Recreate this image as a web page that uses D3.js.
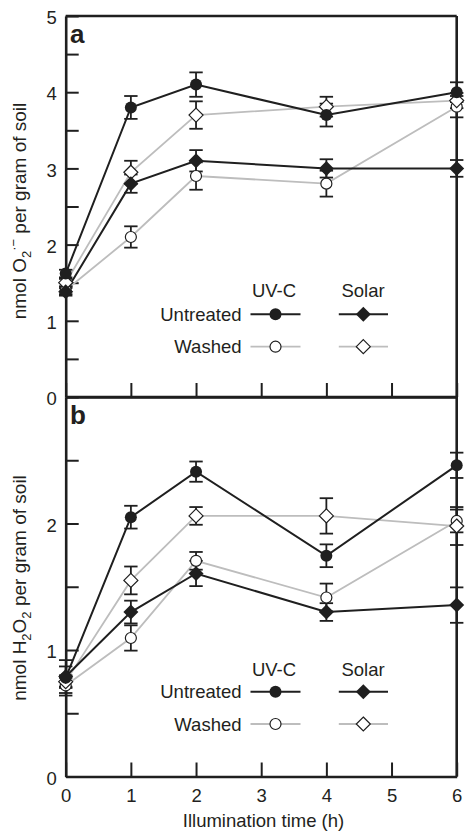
<!DOCTYPE html>
<html>
<head>
<meta charset="utf-8">
<script src="https://cdn.jsdelivr.net/npm/d3@7"></script>
<style>
  html, body { margin: 0; padding: 0; background: #fff; }
  text { font-family: "Liberation Sans", Arial, Helvetica, sans-serif; fill: #231f20; }
</style>
</head>
<body>
<svg id="chart" width="465" height="831"></svg>
<script>
// ---------------- DATA ----------------
const times = [0, 1, 2, 4, 6];
const xTickValues = [0, 1, 2, 3, 4, 5, 6];

// Panel a: nmol O2·- per gram of soil
const uvcUntreatedO2 = [1.62, 3.80, 4.10, 3.70, 4.00];
const uvcUntreatedO2Err = [0.05, 0.15, 0.16, 0.15, 0.13];
const solarUntreatedO2 = [1.38, 2.80, 3.10, 3.00, 3.00];
const solarUntreatedO2Err = [0.05, 0.12, 0.14, 0.12, 0.11];
const uvcWashedO2 = [1.40, 2.10, 2.90, 2.80, 3.81];
const uvcWashedO2Err = [0.05, 0.14, 0.18, 0.17, 0.14];
const solarWashedO2 = [1.50, 2.95, 3.70, 3.81, 3.89];
const solarWashedO2Err = [0.05, 0.15, 0.18, 0.13, 0.10];
const yTicksA = [0, 0.5, 1, 1.5, 2, 2.5, 3, 3.5, 4, 4.5, 5];
const yLabelsA = [0, 1, 2, 3, 4, 5];

// Panel b: nmol H2O2 per gram of soil
const uvcUntreatedH2O2 = [0.78, 2.05, 2.41, 1.745, 2.46];
const uvcUntreatedH2O2Err = [0.14, 0.09, 0.08, 0.09, 0.10];
const solarUntreatedH2O2 = [0.79, 1.30, 1.605, 1.30, 1.355];
const solarUntreatedH2O2Err = [0.08, 0.09, 0.10, 0.07, 0.14];
const uvcWashedH2O2 = [0.72, 1.095, 1.705, 1.415, 2.02];
const uvcWashedH2O2Err = [0.06, 0.10, 0.07, 0.11, 0.09];
const solarWashedH2O2 = [0.75, 1.55, 2.06, 2.06, 1.98];
const solarWashedH2O2Err = [0.05, 0.11, 0.07, 0.14, 0.15];
const yTicksB = [0, 0.5, 1, 1.5, 2, 2.5];
const yLabelsB = [0, 1, 2];

// ---------------- STYLE / LAYOUT ----------------
const BLACK = "#1f1f1f";
const GRAY = "#bdbdbd";
const FONT = 18.5;

const svg = d3.select("#chart");
const x = d3.scaleLinear().domain([0, 6]).range([65.7, 456.7]);

const series = (vals, errs, kind) => times.map((t, i) => ({ t, v: vals[i], e: errs[i], kind }));

const panels = [
  {
    letter: "a",
    y: d3.scaleLinear().domain([0, 5]).range([397, 16]),
    ticks: yTicksA, labels: yLabelsA, showXLabels: false,
    titleY: 211,
    title: [["nmol O", 0], ["2", 1], ["·\u2212", -1], [" per gram of soil", 0]],
    data: [
      series(uvcWashedO2, uvcWashedO2Err, "openCircle"),
      series(solarWashedO2, solarWashedO2Err, "openDiamond"),
      series(uvcUntreatedO2, uvcUntreatedO2Err, "filledCircle"),
      series(solarUntreatedO2, solarUntreatedO2Err, "filledDiamond")
    ],
    legend: { header: 296.7, row1: 314.3, row2: 346.7 }
  },
  {
    letter: "b",
    y: d3.scaleLinear().domain([0, 3]).range([776.5, 397]),
    ticks: yTicksB, labels: yLabelsB, showXLabels: true,
    titleY: 588,
    title: [["nmol H", 0], ["2", 1], ["O", 0], ["2", 1], [" per gram of soil", 0]],
    data: [
      series(uvcWashedH2O2, uvcWashedH2O2Err, "openCircle"),
      series(solarWashedH2O2, solarWashedH2O2Err, "openDiamond"),
      series(uvcUntreatedH2O2, uvcUntreatedH2O2Err, "filledCircle"),
      series(solarUntreatedH2O2, solarUntreatedH2O2Err, "filledDiamond")
    ],
    legend: { header: 676, row1: 691.7, row2: 724 }
  }
];

function diamondPath(h) { return `M0,${-h}L${h},0L0,${h}L${-h},0Z`; }

function drawMarker(g, kind, cx, cy) {
  if (kind === "filledCircle") {
    g.append("circle").attr("cx", cx).attr("cy", cy).attr("r", 6).attr("fill", BLACK);
  } else if (kind === "openCircle") {
    g.append("circle").attr("cx", cx).attr("cy", cy).attr("r", 5.5)
      .attr("fill", "#fff").attr("stroke", BLACK).attr("stroke-width", 1.2);
  } else if (kind === "filledDiamond") {
    g.append("path").attr("d", diamondPath(7.5)).attr("transform", `translate(${cx},${cy})`)
      .attr("fill", BLACK);
  } else {
    g.append("path").attr("d", diamondPath(7)).attr("transform", `translate(${cx},${cy})`)
      .attr("fill", "#fff").attr("stroke", BLACK).attr("stroke-width", 1.2);
  }
}

const isWashed = k => k.startsWith("open");

panels.forEach(p => {
  const y = p.y;
  const g = svg.append("g");

  // Left axis (inward ticks)
  const yAxis = d3.axisLeft(y).tickValues(p.ticks).tickSizeInner(-13).tickSizeOuter(0).tickPadding(9)
    .tickFormat(d => p.labels.includes(d) ? d3.format("d")(d) : "");
  const ya = g.append("g").attr("transform", `translate(${x(0)},0)`).call(yAxis);
  ya.select(".domain").attr("stroke", BLACK).attr("stroke-width", 2.6);
  ya.selectAll(".tick line").attr("stroke", BLACK).attr("stroke-width", 2);
  ya.selectAll(".tick text").attr("font-size", FONT).attr("fill", "#231f20")
    .attr("font-family", "Liberation Sans, Arial, sans-serif").attr("dy", "0.42em");

  // Bottom axis (inward ticks)
  const xAxis = d3.axisBottom(x).tickValues(xTickValues).tickSizeInner(-14).tickSizeOuter(0).tickPadding(12)
    .tickFormat(d => p.showXLabels ? d3.format("d")(d) : "");
  const xa = g.append("g").attr("transform", `translate(0,${y(0)})`).call(xAxis);
  xa.select(".domain").attr("stroke", BLACK).attr("stroke-width", 2.6);
  xa.selectAll(".tick line").attr("stroke", BLACK).attr("stroke-width", 2);
  xa.selectAll(".tick text").attr("font-size", FONT).attr("fill", "#231f20")
    .attr("font-family", "Liberation Sans, Arial, sans-serif");

  // Top and right frame lines
  const [yMin, yMax] = y.domain();
  g.append("line").attr("x1", x(0)).attr("x2", x(6)).attr("y1", y(yMax)).attr("y2", y(yMax))
    .attr("stroke", BLACK).attr("stroke-width", 2.6);
  g.append("line").attr("x1", x(6)).attr("x2", x(6)).attr("y1", y(yMax)).attr("y2", y(yMin))
    .attr("stroke", BLACK).attr("stroke-width", 2.6);

  // Panel letter
  g.append("text").attr("x", 70).attr("y", y(yMax) + 27).attr("font-size", 26)
    .attr("font-weight", "bold").attr("fill", "#111").text(p.letter);

  // Y title
  const t = g.append("text").attr("transform", `translate(25.5,${p.titleY}) rotate(-90)`)
    .attr("text-anchor", "middle").attr("font-size", 19);
  let shift = 0;
  p.title.forEach(([s, lvl]) => {
    const target = lvl === 1 ? 5 : (lvl === -1 ? -8 : 0);
    const ts = t.append("tspan").attr("dy", target - shift).text(s);
    if (lvl !== 0) ts.attr("font-size", 13);
    shift = target;
  });

  // Lines
  const lineGen = d3.line().x(d => x(d.t)).y(d => y(d.v));
  p.data.forEach(s => {
    g.append("path").datum(s).attr("d", lineGen).attr("fill", "none")
      .attr("stroke", isWashed(s[0].kind) ? GRAY : BLACK)
      .attr("stroke-width", isWashed(s[0].kind) ? 1.8 : 2);
  });

  // Error bars
  p.data.forEach(s => {
    s.forEach(d => {
      const eg = g.append("g").attr("stroke", BLACK).attr("stroke-width", 1.8);
      eg.append("line").attr("x1", x(d.t)).attr("x2", x(d.t)).attr("y1", y(d.v - d.e)).attr("y2", y(d.v + d.e));
      eg.append("line").attr("x1", x(d.t) - 6.7).attr("x2", x(d.t) + 6.7).attr("y1", y(d.v - d.e)).attr("y2", y(d.v - d.e));
      eg.append("line").attr("x1", x(d.t) - 6.7).attr("x2", x(d.t) + 6.7).attr("y1", y(d.v + d.e)).attr("y2", y(d.v + d.e));
    });
  });

  // Markers
  p.data.forEach(s => s.forEach(d => drawMarker(g, d.kind, x(d.t), y(d.v))));

  // Legend
  const L = p.legend;
  const lg = g.append("g");
  lg.append("text").attr("x", 274).attr("y", L.header).attr("text-anchor", "middle").attr("font-size", FONT).text("UV-C");
  lg.append("text").attr("x", 363).attr("y", L.header).attr("text-anchor", "middle").attr("font-size", FONT).text("Solar");
  lg.append("text").attr("x", 241.5).attr("y", L.row1 + 6.5).attr("text-anchor", "end").attr("font-size", FONT).text("Untreated");
  lg.append("text").attr("x", 241.5).attr("y", L.row2 + 6.5).attr("text-anchor", "end").attr("font-size", FONT).text("Washed");
  const rows = [
    { yy: L.row1, color: BLACK, w: 2, kinds: ["filledCircle", "filledDiamond"] },
    { yy: L.row2, color: GRAY, w: 1.8, kinds: ["openCircle", "openDiamond"] }
  ];
  const cols = [{ x1: 250.5, x2: 300.5, cx: 275.5 }, { x1: 338.8, x2: 388, cx: 363.3 }];
  rows.forEach(r => {
    cols.forEach((c, ci) => {
      lg.append("line").attr("x1", c.x1).attr("x2", c.x2).attr("y1", r.yy).attr("y2", r.yy)
        .attr("stroke", r.color).attr("stroke-width", r.w);
      drawMarker(lg, r.kinds[ci], c.cx, r.yy);
    });
  });
});

// X title
svg.append("text").attr("x", 263.5).attr("y", 827).attr("text-anchor", "middle")
  .attr("font-size", FONT).text("Illumination time (h)");
</script>
</body>
</html>
